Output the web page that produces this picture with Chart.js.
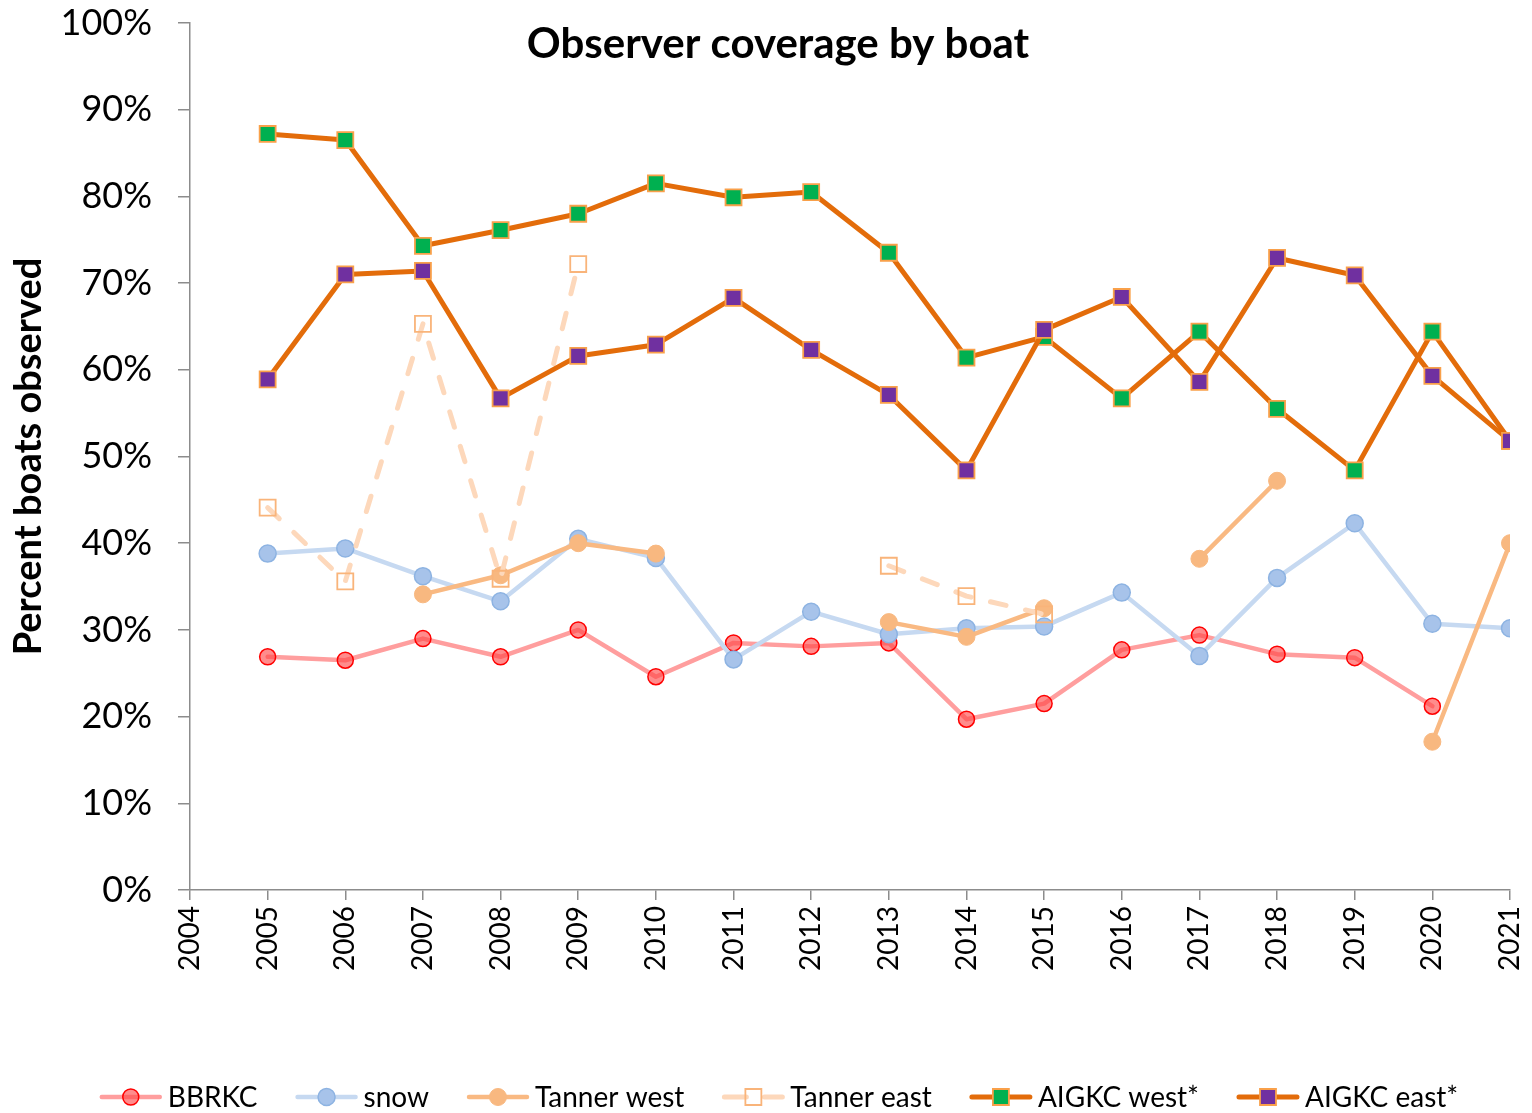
<!DOCTYPE html>
<html>
<head>
<meta charset="utf-8">
<script src="https://cdn.jsdelivr.net/npm/chart.js@4/dist/chart.umd.min.js"></script>
<style>
  html, body { margin: 0; padding: 0; background: #ffffff; }
  #wrap { width: 1532px; height: 1113px; position: relative; }
</style>
</head>
<body>
<div id="wrap"><canvas id="chart" width="1532" height="1113"></canvas></div>
<script>
// Season years shown on the x axis
const years = [2005, 2006, 2007, 2008, 2009, 2010, 2011, 2012, 2013, 2014, 2015, 2016, 2017, 2018, 2019, 2020, 2021];

// Percent of boats carrying an observer, per fishery (null = no fishery that year)
const bbrkc      = [26.9, 26.5, 29.0, 26.9, 30.0, 24.6, 28.5, 28.1, 28.5, 19.7, 21.5, 27.7, 29.4, 27.2, 26.8, 21.2, null];
const snow       = [38.8, 39.4, 36.2, 33.3, 40.5, 38.3, 26.6, 32.1, 29.5, 30.2, 30.4, 34.3, 27.0, 36.0, 42.3, 30.7, 30.2];
const tannerWest = [null, null, 34.1, 36.3, 40.0, 38.8, null, null, 30.9, 29.2, 32.5, null, 38.2, 47.2, null, 17.1, 40.0];
const tannerEast = [44.1, 35.6, 65.3, 35.9, 72.2, null, null, null, 37.4, 33.9, 31.8, null, null, null, null, null, null];
const aigkcWest  = [87.2, 86.5, 74.3, 76.1, 78.0, 81.5, 79.9, 80.5, 73.5, 61.4, 63.8, 56.7, 64.4, 55.5, 48.4, 64.4, 51.8];
const aigkcEast  = [58.9, 71.0, 71.4, 56.7, 61.6, 62.9, 68.3, 62.3, 57.1, 48.4, 64.6, 68.4, 58.6, 72.9, 70.9, 59.3, 51.8];

const seriesNames = ['BBRKC', 'snow', 'Tanner west', 'Tanner east', 'AIGKC west*', 'AIGKC east*'];
const chartTitle = 'Observer coverage by boat';
const yAxisTitle = 'Percent boats observed';

const FONT = 'Lato, "Open Sans", "DejaVu Sans", sans-serif';
const AXIS_GREY = '#8c8c8c';

const toPoints = vals => years.map((yr, i) => ({ x: yr, y: vals[i] }));

const styles = [
  { borderColor: '#ff9e9e', borderWidth: 4.5, pointStyle: 'circle', pointRadius: 8,
    pointBackgroundColor: 'rgba(255,70,70,0.62)', pointBorderColor: '#ff0000', pointBorderWidth: 1.5 },
  { borderColor: '#c6d9f1', borderWidth: 4.5, pointStyle: 'circle', pointRadius: 8.5,
    pointBackgroundColor: '#a7c3ea', pointBorderColor: '#8db3e2', pointBorderWidth: 1.5 },
  { borderColor: '#f9b982', borderWidth: 4.5, pointStyle: 'circle', pointRadius: 8.5,
    pointBackgroundColor: '#f8b880', pointBorderColor: '#f8b880', pointBorderWidth: 1 },
  { borderColor: '#fdd8bb', borderWidth: 5, borderDash: [16, 20], pointStyle: 'rect', pointRadius: 11.3,
    pointBackgroundColor: 'rgba(255,255,255,0)', pointBorderColor: '#f9b47a', pointBorderWidth: 1.8 },
  { borderColor: '#e36c0a', borderWidth: 5, pointStyle: 'rect', pointRadius: 11.3,
    pointBackgroundColor: '#00b050', pointBorderColor: '#f9a04a', pointBorderWidth: 1.8 },
  { borderColor: '#e36c0a', borderWidth: 5, pointStyle: 'rect', pointRadius: 11.3,
    pointBackgroundColor: '#7030a0', pointBorderColor: '#f9a04a', pointBorderWidth: 1.8 }
];

const seriesValues = [bbrkc, snow, tannerWest, tannerEast, aigkcWest, aigkcEast];

const datasets = seriesValues.map((vals, i) => Object.assign({
  label: seriesNames[i],
  data: toPoints(vals),
  fill: false,
  tension: 0,
  spanGaps: false,
  borderCapStyle: 'round',
  borderJoinStyle: 'round',
  pointHoverRadius: 8,
  // later series sit on top of earlier ones
  order: seriesValues.length - i
}, styles[i]));

// Chart title drawn inside the plot, centred over it
const titlePlugin = {
  id: 'innerTitle',
  afterDraw(chart) {
    const ctx = chart.ctx;
    ctx.save();
    ctx.font = 'bold 42px ' + FONT;
    ctx.fillStyle = '#000000';
    ctx.textAlign = 'center';
    ctx.textBaseline = 'middle';
    ctx.fillText(chartTitle, 778, 44);
    ctx.restore();
  }
};

// Legend row along the bottom: line sample with its marker, then the name
const legendPlugin = {
  id: 'lineLegend',
  afterDraw(chart) {
    const ctx = chart.ctx;
    const sampleW = 62, textGap = 6, itemGap = 38, cy = 1097;
    ctx.save();
    ctx.font = '28px ' + FONT;
    const widths = chart.data.datasets.map(ds => ctx.measureText(ds.label).width);
    const total = widths.reduce((a, w) => a + sampleW + textGap + w, 0) + itemGap * (widths.length - 1);
    let x = 779 - total / 2;
    chart.data.datasets.forEach((ds, i) => {
      ctx.save();
      ctx.strokeStyle = ds.borderColor;
      ctx.lineWidth = ds.borderWidth;
      ctx.lineCap = 'round';
      ctx.setLineDash(ds.borderDash ? [22, 18] : []);
      ctx.beginPath();
      ctx.moveTo(x + 2, cy);
      ctx.lineTo(x + sampleW - 2, cy);
      ctx.stroke();
      ctx.restore();
      ctx.save();
      ctx.fillStyle = ds.pointBackgroundColor;
      ctx.strokeStyle = ds.pointBorderColor;
      ctx.lineWidth = ds.pointBorderWidth;
      Chart.helpers.drawPoint(ctx, { pointStyle: ds.pointStyle, radius: ds.pointRadius, borderWidth: ds.pointBorderWidth, rotation: 0 }, x + sampleW / 2, cy);
      ctx.restore();
      ctx.fillStyle = '#000000';
      ctx.textAlign = 'left';
      ctx.textBaseline = 'middle';
      ctx.fillText(ds.label, x + sampleW + textGap, cy + 1);
      x += sampleW + textGap + widths[i] + itemGap;
    });
    ctx.restore();
  }
};

new Chart(document.getElementById('chart'), {
  type: 'line',
  data: { datasets },
  plugins: [titlePlugin, legendPlugin],
  options: {
    responsive: false,
    animation: false,
    events: [],
    layout: { padding: { left: 0, right: 22, top: 23, bottom: 0 } },
    plugins: {
      legend: { display: false },
      title: { display: false },
      tooltip: { enabled: false }
    },
    scales: {
      x: {
        type: 'linear',
        min: 2004,
        max: 2021,
        afterFit(scale) {
          scale.height = 223;
          scale.paddingLeft = 0;
          scale.paddingRight = 0;
        },
        ticks: {
          stepSize: 1,
          autoSkip: false,
          minRotation: 90,
          maxRotation: 90,
          padding: 6,
          color: '#000000',
          font: { family: FONT, size: 28 },
          callback: v => String(v)
        },
        grid: { drawOnChartArea: false, drawTicks: true, tickLength: 10, color: AXIS_GREY, lineWidth: 1.5 },
        border: { display: true, color: AXIS_GREY, width: 1.5 }
      },
      y: {
        type: 'linear',
        min: 0,
        max: 100,
        afterFit(scale) {
          scale.width = 190;
          scale.paddingTop = 0;
          scale.paddingBottom = 0;
        },
        ticks: {
          stepSize: 10,
          padding: 26,
          color: '#000000',
          font: { family: FONT, size: 36 },
          callback: v => v + '%'
        },
        grid: { drawOnChartArea: false, drawTicks: true, tickLength: 12, color: AXIS_GREY, lineWidth: 1.5 },
        border: { display: true, color: AXIS_GREY, width: 1.5 },
        title: {
          display: true,
          text: yAxisTitle,
          color: '#000000',
          font: { family: FONT, size: 38, weight: 'bold' },
          padding: { top: 6, bottom: 0 }
        }
      }
    }
  }
});
</script>
</body>
</html>
